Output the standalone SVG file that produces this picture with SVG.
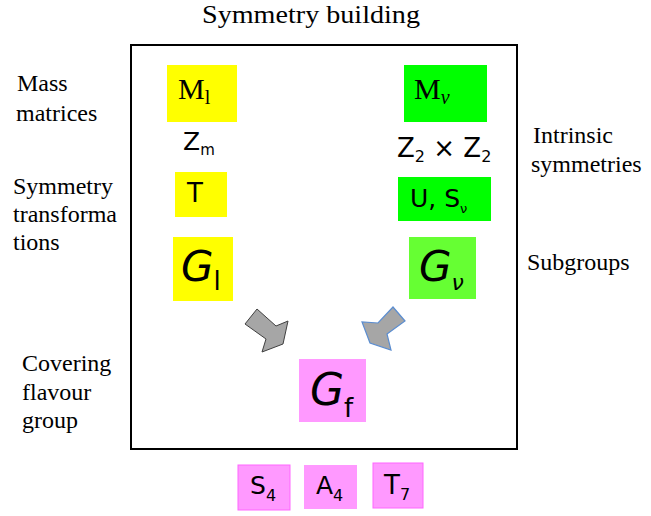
<svg xmlns="http://www.w3.org/2000/svg" width="651" height="516" viewBox="0 0 651 516">
<defs>
<marker id="unused" markerWidth="1" markerHeight="1"/>
</defs>
<rect width="651" height="516" fill="#fff"/>
<text font-family="Liberation Serif" x="202" y="23" font-size="25" textLength="218" lengthAdjust="spacingAndGlyphs">Symmetry building</text>
<rect x="131" y="45" width="386" height="404" fill="none" stroke="#000" stroke-width="2"/>
<g id="labels">
<text font-family="Liberation Serif" font-size="24" x="17" y="91">Mass</text>
<text font-family="Liberation Serif" font-size="24" x="16" y="121">matrices</text>
<text font-family="Liberation Serif" font-size="24" x="13" y="194">Symmetry</text>
<text font-family="Liberation Serif" font-size="24" x="13" y="222">transforma</text>
<text font-family="Liberation Serif" font-size="24" x="13" y="250">tions</text>
<text font-family="Liberation Serif" font-size="24" x="533" y="143">Intrinsic</text>
<text font-family="Liberation Serif" font-size="24" x="531" y="172">symmetries</text>
<text font-family="Liberation Serif" font-size="24" x="527" y="270">Subgroups</text>
<text font-family="Liberation Serif" font-size="24" x="22" y="371">Covering</text>
<text font-family="Liberation Serif" font-size="24" x="22" y="400">flavour</text>
<text font-family="Liberation Serif" font-size="24" x="22" y="428">group</text>
</g>
<g id="Ml">
<rect fill="#ffff00" x="167" y="65" width="70" height="57"/>
<text font-family="Liberation Serif" x="178" y="99" font-size="30">M<tspan font-size="20" dy="5">l</tspan></text>
</g>
<g id="Zm">
<text font-family="DejaVu Sans" x="183" y="150" font-size="25">Z<tspan font-size="15" dy="5">m</tspan></text>
</g>
<g id="T">
<rect fill="#ffff00" x="175" y="172" width="52" height="45"/>
<text font-family="DejaVu Sans" x="187" y="202" font-size="26">T</text>
</g>
<g id="Gl">
<rect fill="#ffff00" x="173" y="237" width="60" height="64"/>
<text font-family="DejaVu Sans" font-style="oblique" x="181" y="281" font-size="42">G<tspan font-style="normal" font-size="26" dy="9">l</tspan></text>
</g>
<g id="Mnu">
<rect fill="#00ff00" x="404" y="65" width="83" height="57"/>
<text font-family="Liberation Serif" x="414" y="99" font-size="30">M<tspan font-style="italic" font-size="20" dy="5">ν</tspan></text>
</g>
<g id="Z2Z2">
<text font-family="DejaVu Sans" x="397" y="157" font-size="26">Z<tspan font-size="16" dy="5">2</tspan><tspan dy="-5"> × Z</tspan><tspan font-size="16" dy="5">2</tspan></text>
</g>
<g id="USnu">
<rect fill="#00ff00" x="398" y="177" width="93" height="44"/>
<text font-family="DejaVu Sans" x="410" y="207" font-size="25">U, S<tspan font-size="13" dy="6">ν</tspan></text>
</g>
<g id="Gnu">
<rect fill="#66ff33" x="409" y="237" width="67" height="62"/>
<text font-family="DejaVu Sans" font-style="oblique" x="419" y="281" font-size="42">G<tspan font-size="22" dy="9">ν</tspan></text>
</g>
<g id="connectors">
<polygon points="257,309 276,326 288,321 283,344 262,352 266,339 245,324" fill="#a6a6a6" stroke="#404040" stroke-width="1"/>
<polygon points="393,307 378,323 362,322 370,343 391,350 387,334 405,321" fill="#a6a6a6" stroke="#5b8dd0" stroke-width="1.2"/>
</g>
<g id="Gf">
<rect fill="#ff99ff" x="299" y="359" width="67" height="63"/>
<text font-family="DejaVu Sans" font-style="oblique" x="310" y="405" font-size="44">G<tspan font-style="normal" font-size="26" dy="12">f</tspan></text>
</g>
<g id="S4">
<rect fill="#ff99ff" stroke="#ff66ff" x="238" y="465" width="52" height="45"/>
<text font-family="DejaVu Sans" x="250" y="494" font-size="25">S<tspan font-size="16" dy="7">4</tspan></text>
</g>
<g id="A4">
<rect fill="#ff99ff" x="304" y="465" width="53" height="44"/>
<text font-family="DejaVu Sans" x="316" y="494" font-size="25">A<tspan font-size="16" dy="7">4</tspan></text>
</g>
<g id="T7">
<rect fill="#ff99ff" stroke="#ff66ff" x="373" y="463" width="50" height="45"/>
<text font-family="DejaVu Sans" x="384" y="494" font-size="26">T<tspan font-size="16" dy="6">7</tspan></text>
</g>
</svg>
